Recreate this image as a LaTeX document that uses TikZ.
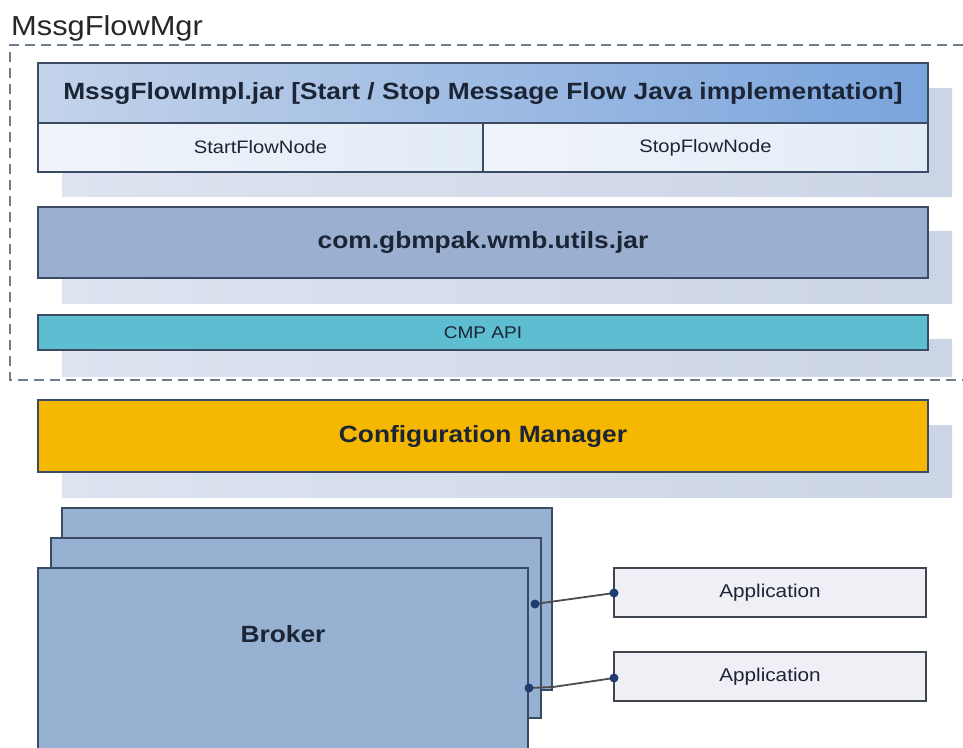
\documentclass[tikz,border=0pt]{standalone}
\usepackage{fontspec}
\setmainfont[FakeStretch=1.12]{Liberation Sans}
\definecolor{edgec}{HTML}{3B4B63}
\definecolor{txtc}{HTML}{1B2535}
\definecolor{hdrL}{HTML}{C3D3EA}
\definecolor{hdrR}{HTML}{7AA4DC}
\definecolor{cellL}{HTML}{F0F4FA}
\definecolor{cellR}{HTML}{E2ECF7}
\definecolor{shL}{HTML}{DDE3EF}
\definecolor{shR}{HTML}{CCD5E6}
\definecolor{utilc}{HTML}{9BB0D1}
\definecolor{cmpc}{HTML}{5DBDD1}
\definecolor{cfgc}{HTML}{F5B700}
\definecolor{brkc}{HTML}{97B1D3}
\definecolor{appc}{HTML}{F1EFF6}
\definecolor{appe}{HTML}{40464F}
\definecolor{dashc}{HTML}{6F7D8F}
\definecolor{linkc}{HTML}{1F3D70}
\tikzset{
  box/.style={draw=edgec, line width=1.3pt, anchor=north west, inner sep=0pt, outer sep=0pt, text=txtc},
  shadowbox/.style={left color=shL, right color=shR},
  boldtxt/.style={font=\fontsize{23.5}{26}\selectfont\bfseries},
  smalltxt/.style={font=\fontsize{18}{20}\selectfont},
  appbox/.style={draw=appe, fill=appc, line width=1.3pt, anchor=north west, inner sep=0pt, outer sep=0pt, text=txtc, minimum width=312pt, minimum height=49pt, font=\fontsize{18.5}{20}\selectfont},
  brkbox/.style={draw=edgec, fill=brkc, line width=1.3pt, anchor=north west, inner sep=0pt, outer sep=0pt, minimum width=490pt},
  dot/.style={circle, fill=linkc, inner sep=0pt, minimum size=9pt},
  link/.style={draw=black!70, line width=1.8pt},
  frame/.style={draw=dashc, line width=1.6pt, dash pattern=on 10pt off 6pt},
}
\begin{document}
\begin{tikzpicture}[x=1pt,y=-1pt]
\useasboundingbox (0,0) rectangle (963,747);
% title and dashed frame
\node[anchor=base west, inner sep=0pt, text=black!85, font=\fontsize{27.5}{30}\selectfont] (title) at (11,35) {MssgFlowMgr};
\draw[frame] (963,45) -- (10,45) -- (10,380) -- (963,380);
% shadows
\fill[shadowbox] (62,88) rectangle (952,196);
\fill[shadowbox] (62,231) rectangle (952,303);
\fill[shadowbox] (62,339) rectangle (952,376);
\fill[shadowbox] (62,425) rectangle (952,497);
% MssgFlowImpl
\node[box, left color=hdrL, right color=hdrR, minimum width=890pt, minimum height=60pt, boldtxt] (impl) at (38,63) {MssgFlowImpl.jar [Start / Stop Message Flow Java implementation]};
\node[box, left color=cellL, right color=cellR, minimum width=445pt, minimum height=49pt, smalltxt] (start) at (38,123) {StartFlowNode};
\node[box, left color=cellL, right color=cellR, minimum width=445pt, minimum height=49pt, smalltxt] (stop) at (483,123) {StopFlowNode};
% utils
\node[box, fill=utilc, minimum width=890pt, minimum height=71pt, boldtxt] (utils) at (38,207) {com.gbmpak.wmb.utils.jar};
% CMP API
\node[box, fill=cmpc, minimum width=890pt, minimum height=35pt, font=\fontsize{17}{19}\selectfont] (cmp) at (38,315) {CMP API};
% Configuration Manager
\node[box, fill=cfgc, minimum width=890pt, minimum height=72pt, boldtxt] (cfg) at (38,400) {Configuration Manager};
% Brokers
\node[brkbox, minimum height=182pt] (brk3) at (62,508) {};
\node[brkbox, minimum height=180pt] (brk2) at (51,538) {};
\node[brkbox, minimum height=185pt] (brk1) at (38,568) {};
\node[font=\fontsize{23.5}{26}\selectfont\bfseries, text=txtc] (brklabel) at (283,634) {Broker};
% Applications
\node[appbox] (app1) at (614,568) {Application};
\node[appbox] (app2) at (614,652) {Application};
% connectors
\coordinate (p1) at (535,604);
\coordinate (q1) at (app1.west |- 0,593);
\coordinate (p2) at (529,688);
\coordinate (m2) at (553,687);
\coordinate (q2) at (app2.west |- 0,678);
\draw[link] (p1) -- (q1);
\draw[link] (p2) -- (m2) -- (q2);
\node[dot] at (p1) {};
\node[dot] at (q1) {};
\node[dot] at (p2) {};
\node[dot] at (q2) {};
\end{tikzpicture}
\end{document}
